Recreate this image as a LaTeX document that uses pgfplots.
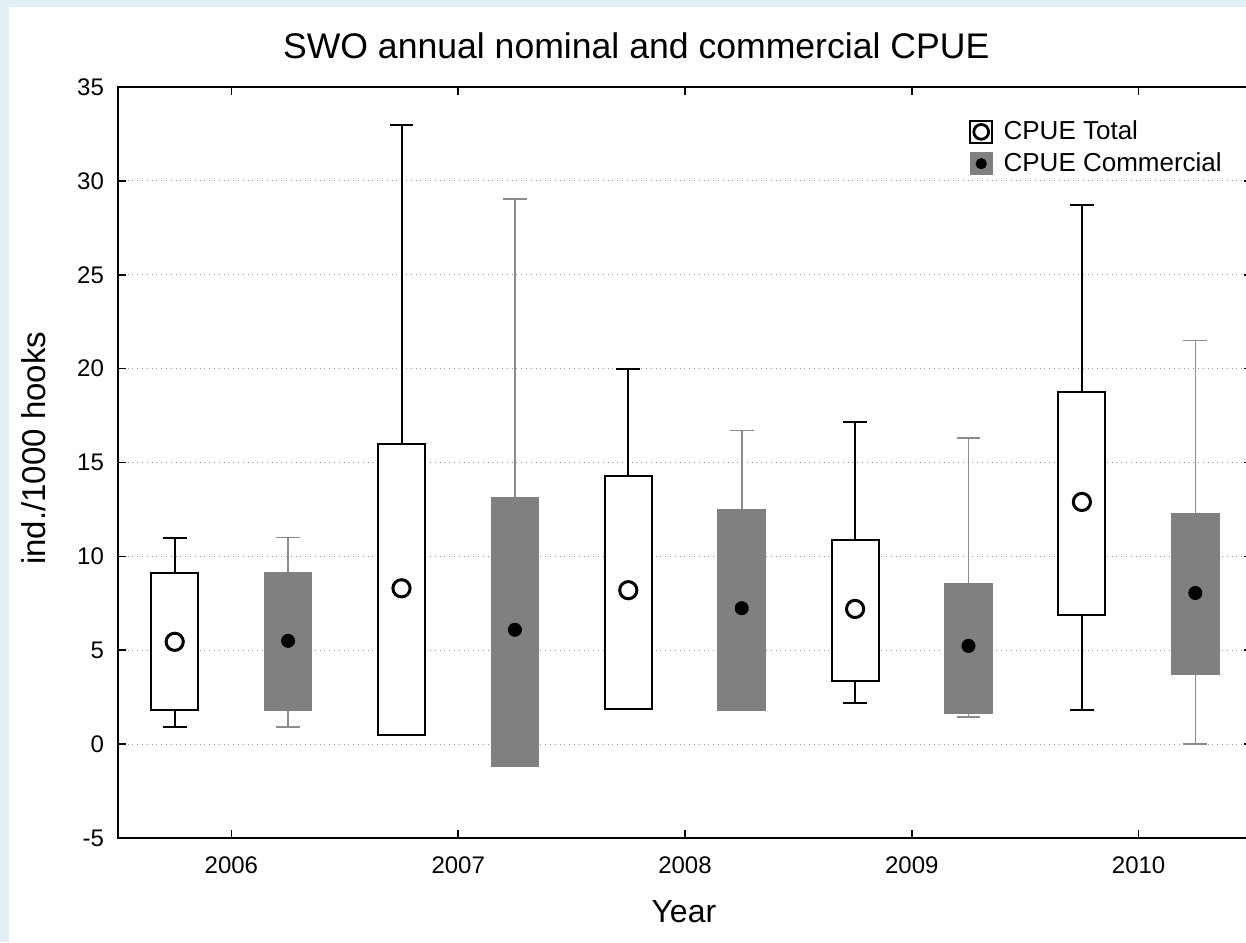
\documentclass[border=0pt]{standalone}
\usepackage{fontspec}
\setmainfont{Liberation Sans}
\usepackage{pgfplots}
\pgfplotsset{compat=1.18}
\usepgfplotslibrary{statistics}

\definecolor{frame}{RGB}{226,239,244}
\definecolor{boxgray}{RGB}{128,128,128}
\definecolor{whiskgray}{RGB}{140,140,140}
\definecolor{gridgray}{RGB}{150,150,150}

% styles for the two kinds of box
\pgfplotsset{
  totalbox/.style={draw=black, fill=white, line width=1pt, forget plot},
  commbox/.style={draw=whiskgray, line width=0.8pt, forget plot,
    boxplot/every box/.style={draw=boxgray, fill=boxgray}},
}

\begin{document}
\begin{tikzpicture}
\fill[frame] (0,0) rectangle (623pt,471pt);
\fill[white] (4.5pt,0) rectangle (623pt,467.5pt);
\begin{axis}[
  at={(59pt,52pt)}, anchor=south west,
  scale only axis, width=567pt, height=375.5pt,
  xmin=-0.5, xmax=4.5, ymin=-5, ymax=35,
  xtick={0,...,4}, xticklabels={2006,2007,2008,2009,2010},
  ytick={-5,0,...,35},
  tick align=inside, major tick length=4pt,
  tick style={black, line width=0.8pt},
  axis line style={black, line width=1pt},
  ymajorgrids, grid style={gridgray, dotted, line width=0.6pt},
  ticklabel style={font=\fontsize{12}{14}\selectfont},
  yticklabel style={/pgf/number format/assume math mode=true, xshift=-3.5pt},
  xticklabel style={yshift=-6pt},
  xlabel={Year}, ylabel={ind./1000 hooks},
  xlabel style={font=\fontsize{16}{18}\selectfont, at={(axis description cs:0.499,-0.0985)}, anchor=center},
  ylabel style={font=\fontsize{16.5}{18}\selectfont, at={(axis description cs:-0.0745,0.519)}, anchor=center},
  title={SWO annual nominal and commercial CPUE},
  title style={font=\fontsize{17.8}{20}\selectfont, at={(axis description cs:0.457,1.039)}, anchor=center},
  legend style={at={(axis description cs:0.745,0.966)}, anchor=north west,
    draw=none, fill=none, font=\fontsize{13}{15}\selectfont, row sep=1pt},
  legend cell align=left,
  boxplot/draw direction=y,
  boxplot/draw/median/.code={},
  boxplot/box extend=0.207,
  boxplot/whisker extend=0.105,
]

% CPUE Total
\addplot[totalbox, boxplot prepared={draw position=-0.25, lower whisker=0.9, lower quartile=1.8, median=5.45, upper quartile=9.1, upper whisker=11.0}] coordinates {};
\addplot[totalbox, boxplot prepared={draw position=0.75, lower whisker=0.46, lower quartile=0.46, median=8.3, upper quartile=15.97, upper whisker=33.0}] coordinates {};
\addplot[totalbox, boxplot prepared={draw position=1.75, lower whisker=1.85, lower quartile=1.85, median=8.2, upper quartile=14.26, upper whisker=20.0}] coordinates {};
\addplot[totalbox, boxplot prepared={draw position=2.75, lower whisker=2.2, lower quartile=3.37, median=7.2, upper quartile=10.85, upper whisker=17.15}] coordinates {};
\addplot[totalbox, boxplot prepared={draw position=3.75, lower whisker=1.84, lower quartile=6.87, median=12.9, upper quartile=18.74, upper whisker=28.7}] coordinates {};

% CPUE Commercial
\addplot[commbox, boxplot prepared={draw position=0.25, lower whisker=0.9, lower quartile=1.8, median=5.5, upper quartile=9.1, upper whisker=11.0}] coordinates {};
\addplot[commbox, boxplot prepared={draw position=1.25, lower whisker=-1.15, lower quartile=-1.15, median=6.09, upper quartile=13.13, upper whisker=29.03}] coordinates {};
\addplot[commbox, boxplot prepared={draw position=2.25, lower whisker=1.82, lower quartile=1.82, median=7.24, upper quartile=12.48, upper whisker=16.71}] coordinates {};
\addplot[commbox, boxplot prepared={draw position=3.25, lower whisker=1.45, lower quartile=1.64, median=5.23, upper quartile=8.56, upper whisker=16.3}] coordinates {};
\addplot[commbox, boxplot prepared={draw position=4.25, lower whisker=0.0, lower quartile=3.74, median=8.05, upper quartile=12.25, upper whisker=21.5}] coordinates {};

% means
\addplot[only marks, mark=*, mark size=4.3pt,
  mark options={fill=white, draw=black, line width=1.5pt},
  legend image code/.code={
    \draw[black, line width=1pt, fill=white] (0pt,-5.5pt) rectangle (11pt,5.5pt);
    \draw[black, line width=1.4pt, fill=white] (5.5pt,0pt) circle (3.7pt);
    \path (14.5pt,0pt);}]
  coordinates {(-0.25,5.45) (0.75,8.3) (1.75,8.2) (2.75,7.2) (3.75,12.9)};
\addlegendentry{CPUE Total}
\addplot[only marks, mark=*, mark size=3.3pt,
  mark options={fill=black, draw=black},
  legend image code/.code={
    \fill[boxgray] (0pt,-5.5pt) rectangle (11pt,5.5pt);
    \fill[black] (5.5pt,0pt) circle (2.6pt);
    \path (14.5pt,0pt);}]
  coordinates {(0.25,5.5) (1.25,6.09) (2.25,7.24) (3.25,5.23) (4.25,8.05)};
\addlegendentry{CPUE Commercial}
\end{axis}
\pgfresetboundingbox
\useasboundingbox (0,0) rectangle (623pt,471pt);
\end{tikzpicture}
\end{document}
